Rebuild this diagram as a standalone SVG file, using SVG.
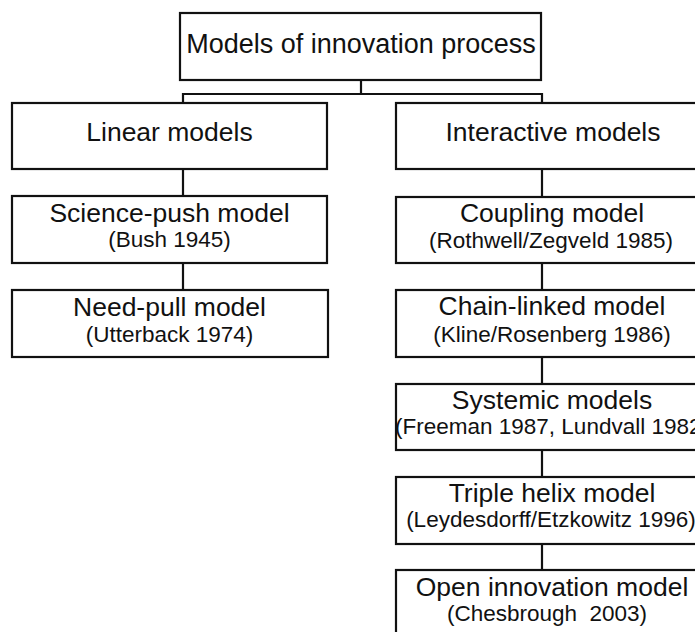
<svg xmlns="http://www.w3.org/2000/svg" width="695" height="632" viewBox="0 0 695 632">
<style>
.box{fill:#fff;stroke:#111;stroke-width:2.2}
.ln{fill:none;stroke:#111;stroke-width:2.2}
text{font-family:"Liberation Sans",Arial,sans-serif;fill:#111;text-anchor:middle}
.t0{font-size:27px}
.t1{font-size:26.5px}
.t2{font-size:22.5px}
</style>
<rect width="695" height="632" fill="#fff"/>
<g id="connectors">
<path class="ln" d="M361 80V94M183 103V94H542V103"/>
<path class="ln" d="M183 169V196M183 263V290"/>
<path class="ln" d="M542 169V197M542 263V290M542 357V384M542 450V477M542 544V570"/>
</g>
<g id="root"><rect class="box" x="180" y="13" width="361" height="67"/><text class="t0" x="361" y="53">Models of innovation process</text></g>
<g id="linear"><rect class="box" x="12" y="103" width="315" height="66"/><text class="t1" x="169.5" y="141">Linear models</text></g>
<g id="science-push"><rect class="box" x="12" y="196" width="315" height="67"/><text class="t1" x="169.5" y="222">Science-push model</text><text class="t2" x="169.5" y="247">(Bush 1945)</text></g>
<g id="need-pull"><rect class="box" x="12" y="290" width="316" height="67"/><text class="t1" x="169.5" y="316">Need-pull model</text><text class="t2" x="169.5" y="342">(Utterback 1974)</text></g>
<g id="interactive"><rect class="box" x="396" y="103" width="316" height="66"/><text class="t1" x="553" y="141">Interactive models</text></g>
<g id="coupling"><rect class="box" x="396" y="197" width="316" height="66"/><text class="t1" x="552" y="222">Coupling model</text><text class="t2" x="551" y="248">(Rothwell/Zegveld 1985)</text></g>
<g id="chain-linked"><rect class="box" x="396" y="290" width="316" height="67"/><text class="t1" x="552" y="315">Chain-linked model</text><text class="t2" x="552" y="342">(Kline/Rosenberg 1986)</text></g>
<g id="systemic"><rect class="box" x="396" y="384" width="316" height="66"/><text class="t1" x="552" y="409">Systemic models</text><text class="t2" x="552" y="434">(Freeman 1987, Lundvall 1982)</text></g>
<g id="triple-helix"><rect class="box" x="396" y="477" width="316" height="67"/><text class="t1" x="552" y="502">Triple helix model</text><text class="t2" x="551" y="527">(Leydesdorff/Etzkowitz 1996)</text></g>
<g id="open-innovation"><rect class="box" x="396" y="570" width="316" height="72"/><text class="t1" x="552" y="596">Open innovation model</text><text class="t2" x="547" y="621" xml:space="preserve">(Chesbrough  2003)</text></g>
</svg>
